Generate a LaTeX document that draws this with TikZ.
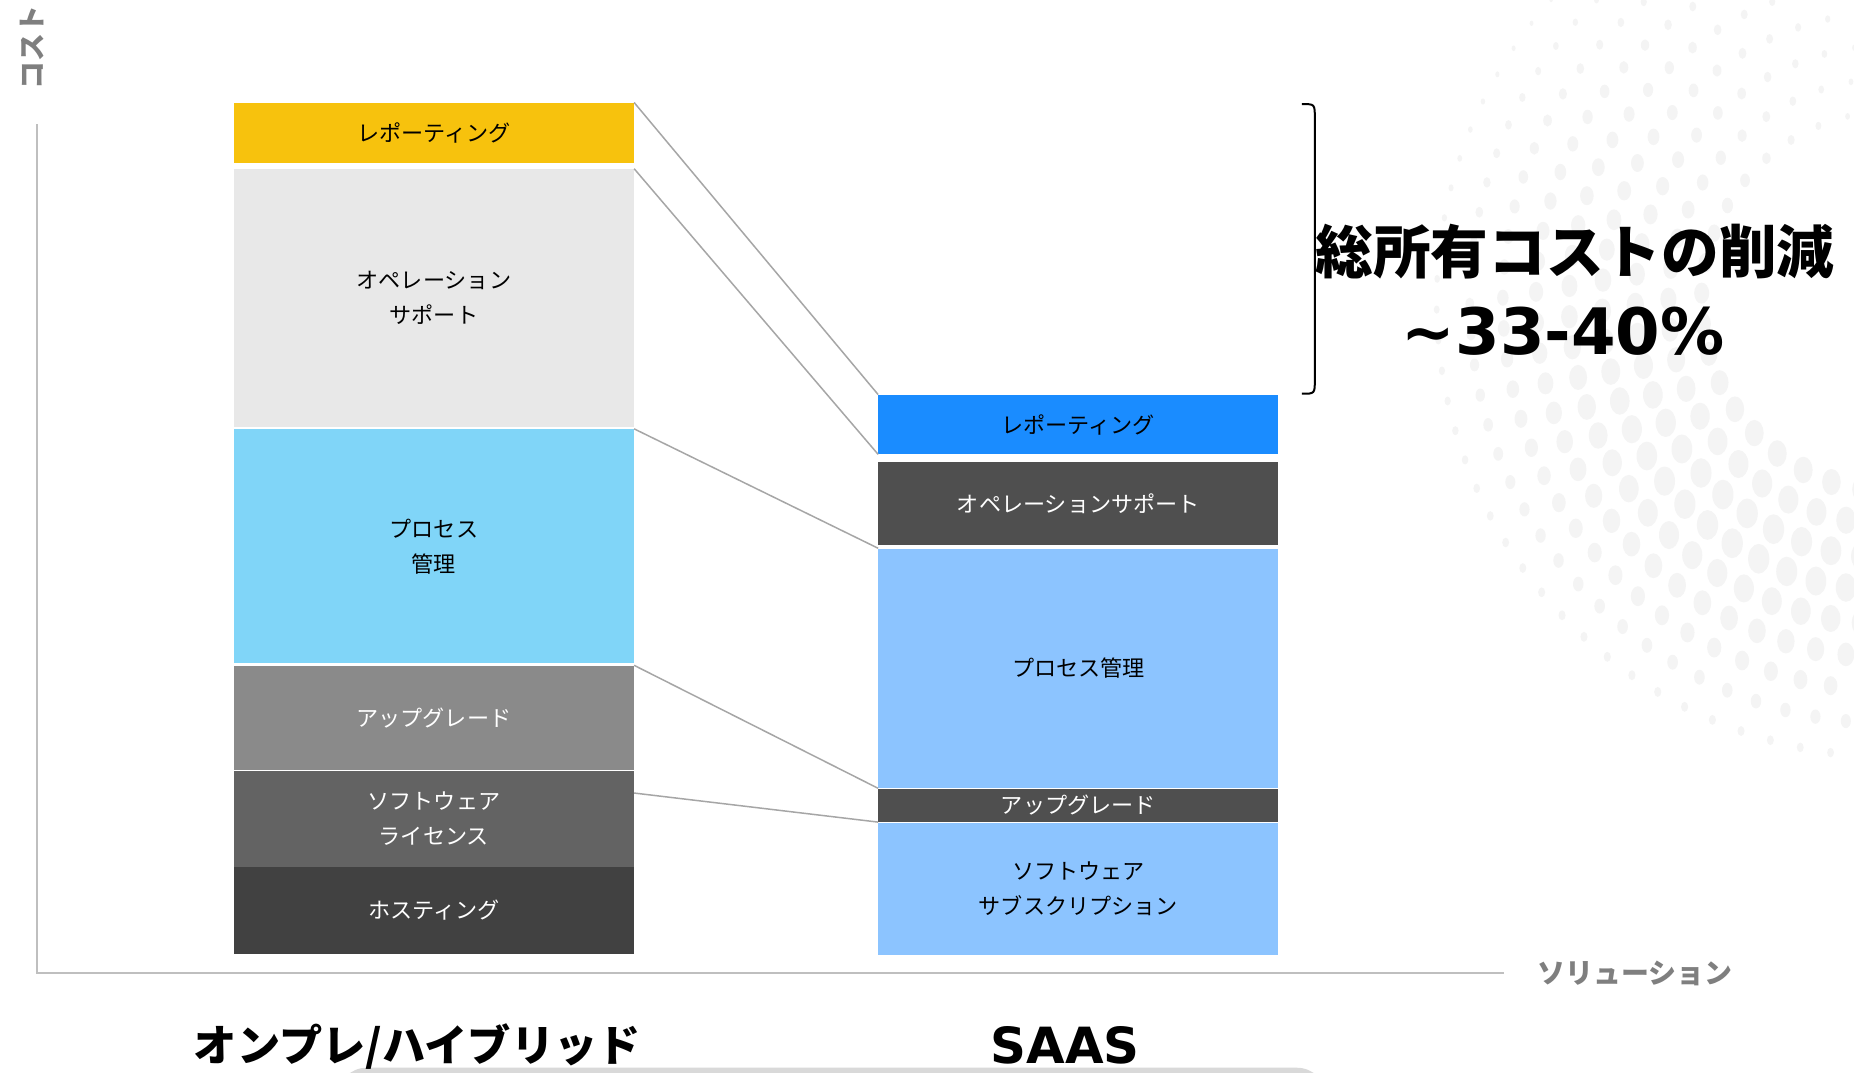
\documentclass[tikz,border=0pt]{standalone}
\usepackage{fontspec}
\setmainfont{Noto Sans CJK JP}
\newfontfamily\dv{DejaVu Sans}
\usetikzlibrary{calc}
\definecolor{cYel}{HTML}{F7C20D}
\definecolor{cLG}{HTML}{E8E8E8}
\definecolor{cCy}{HTML}{80D5F8}
\definecolor{cG4}{HTML}{8A8A8A}
\definecolor{cG5}{HTML}{636363}
\definecolor{cG6}{HTML}{414141}
\definecolor{cBlue}{HTML}{1A8CFF}
\definecolor{cDk}{HTML}{4F4F4F}
\definecolor{cLB}{HTML}{8CC4FF}
\definecolor{connc}{HTML}{A6A6A6}
\definecolor{axisc}{HTML}{BFBFBF}
\definecolor{labc}{HTML}{7F7F7F}
\definecolor{dotc}{HTML}{F4F4F4}
\definecolor{shapec}{HTML}{D9D9D9}
\tikzset{
  bar/.style={rectangle, inner sep=0pt, minimum width=8.45cm, font=\fontsize{13.3}{21}\selectfont, align=center},
  conn/.style={draw=connc, line width=0.9pt},
  axisline/.style={draw=axisc, line width=1.3pt},
  axlab/.style={text=labc, font=\fontsize{16.8}{20}\selectfont\bfseries, inner sep=0pt},
  bigjp/.style={font=\fontsize{34.7}{40}\selectfont\bfseries, inner sep=0pt},
}
\begin{document}
\begin{tikzpicture}[x=0.025cm, y=-0.025cm]
\useasboundingbox (0,0) rectangle (1568,907);
\fill[white] (0,0) rectangle (1568,907);
% faint dot pattern
\begin{scope}
\clip (0,0) rectangle (1568,907);
\foreach \r/\b/\o in {385/3/0, 357/4.5/0.5, 329/6/0, 301/7.5/0.5, 273/8.5/0, 245/9/0.5, 217/9/0, 189/8.5/0.5, 161/8/0} {
  \pgfmathsetmacro\st{26/\r*57.3}
  \pgfmathsetmacro\sb{90+\o*\st}
  \pgfmathsetmacro\sa{\sb+\st}
  \foreach \a in {\sb,\sa,...,270} {
    \pgfmathsetmacro\ss{\b*max(0.15,0.55+0.45*cos(\a-125))}
    \fill[dotc, shift={(1600,255)}] (\a:\r) ellipse [x radius=\ss, y radius=1.4*\ss];
  }
}
\end{scope}
% bottom partial shape
\fill[shapec, rounded corners=18pt] (285,903) rectangle (1122,960);
% axes
\coordinate (ytop) at (31,105);
\coordinate (orig) at (31,823);
\coordinate (xend) at (1272,823);
\draw[axisline] (ytop) -- (orig) -- (xend);
\node[axlab, rotate=90] (ylab) at (27,40) {コスト};
\node[axlab, anchor=west] (xlab) at (1300,823) {ソリューション};
% left column
\node[bar, fill=cYel, minimum height=1.275cm] (L1) at (367,112.5) {レポーティング};
\node[bar, fill=cLG, minimum height=5.45cm] (L2) at (367,252) {オペレーション\\サポート};
\node[bar, fill=cCy, minimum height=4.95cm] (L3) at (367,462) {プロセス\\管理};
\node[bar, fill=cG4, text=white, minimum height=2.2cm] (L4) at (367,607) {アップグレード};
\node[bar, fill=cG5, text=white, minimum height=2.025cm] (L5) at (367,692.5) {ソフトウェア\\ライセンス};
\node[bar, fill=cG6, text=white, minimum height=1.85cm] (L6) at (367,770) {ホスティング};
% right column
\node[bar, fill=cBlue, minimum height=1.25cm] (R1) at (912,359) {レポーティング};
\node[bar, fill=cDk, text=white, minimum height=1.75cm] (R2) at (912,426) {オペレーションサポート};
\node[bar, fill=cLB, minimum height=5.05cm] (R3) at (912,565) {プロセス管理};
\node[bar, fill=cDk, text=white, minimum height=0.7cm] (R4) at (912,681) {アップグレード};
\node[bar, fill=cLB, minimum height=2.8cm] (R5) at (912,752) {ソフトウェア\\サブスクリプション};
% connectors
\path (L5.north east) ++(0,19) coordinate (L5c);
\draw[conn] (L1.north east) -- (R1.north west);
\draw[conn] (L2.north east) -- (R1.south west);
\draw[conn] (L3.north east) -- (R3.north west);
\draw[conn] (L4.north east) -- (R4.north west);
\draw[conn] (L5c) -- (R4.south west);
% bracket
\coordinate (bt) at (1101,88);
\coordinate (bb) at (1101,333);
\draw[line width=1.2pt, black] (bt) .. controls (1112,88) .. (1112,100) -- (1112,321) .. controls (1112,333) .. (bb);
% title
\node[bigjp] (title) at (1332,213) {総所有コストの削減};
\node[font=\fontsize{38.5}{44}\selectfont\dv\bfseries, inner sep=0pt] (pct) at (1322,280) {\textasciitilde 33-40\%};
% bottom labels
\node[font=\fontsize{26}{30}\selectfont\bfseries, inner sep=0pt] (lab1) at (353,885) {オンプレ/ハイブリッド};
\node[font=\fontsize{30}{34}\selectfont\dv\bfseries, inner sep=0pt] (lab2) at (901,884) {SAAS};
\end{tikzpicture}
\end{document}
